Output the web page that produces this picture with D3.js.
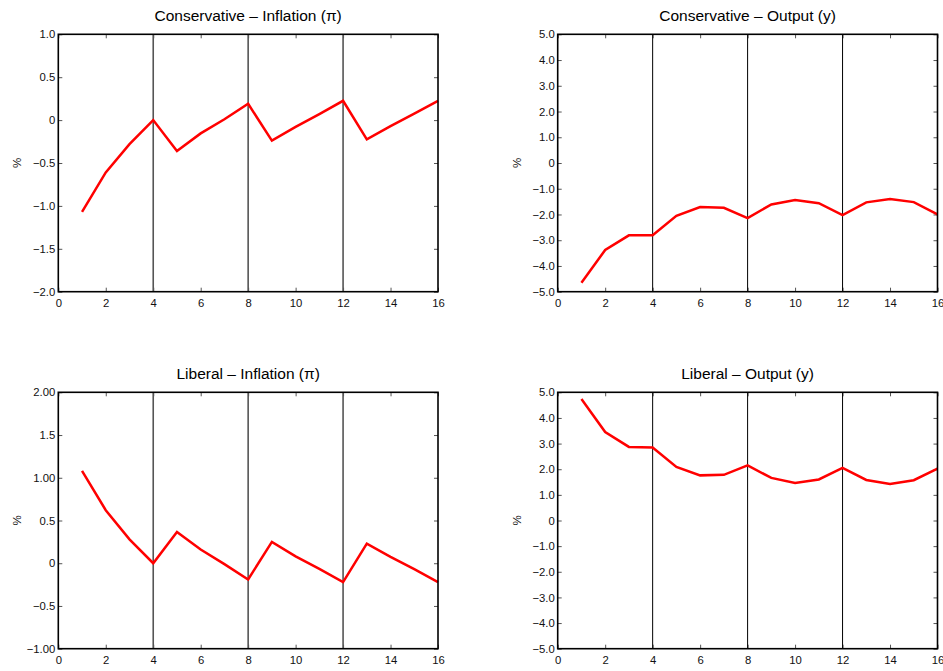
<!DOCTYPE html>
<html><head><meta charset="utf-8">
<script src="https://cdn.jsdelivr.net/npm/d3@7"></script>
<style>body{margin:0;background:#fff;} text{font-family:"Liberation Sans",Arial,sans-serif;}</style>
</head><body>
<svg id="c" width="943" height="671"></svg>
<script>
const periods = d3.range(1, 17);
const consInflation = [-1.07,-0.61,-0.28,0,-0.36,-0.155,0.01,0.19,-0.24,-0.08,0.07,0.225,-0.225,-0.07,0.075,0.225];
const consOutput = [-4.65,-3.38,-2.81,-2.81,-2.05,-1.71,-1.74,-2.14,-1.61,-1.44,-1.56,-2.02,-1.53,-1.40,-1.52,-2.0];
const libInflation = [1.08,0.62,0.28,0,0.365,0.16,-0.01,-0.19,0.25,0.08,-0.065,-0.22,0.23,0.075,-0.07,-0.22];
const libOutput = [4.74,3.45,2.87,2.85,2.09,1.76,1.78,2.15,1.66,1.46,1.60,2.05,1.58,1.42,1.57,2.02];
const xTicks = [0,2,4,6,8,10,12,14,16];
const markerLines = [4,8,12];
const inflTicksCons = [-2,-1.5,-1,-0.5,0,0.5,1];
const inflLabelsCons = ["\u22122.0","\u22121.5","\u22121.0","\u22120.5","0","0.5","1.0"];
const inflTicksLib = [-1,-0.5,0,0.5,1,1.5,2];
const inflLabelsLib = ["\u22121.00","\u22120.5","0","0.5","1.00","1.5","2.00"];
const outTicks = [-5,-4,-3,-2,-1,0,1,2,3,4,5];
const outLabels = ["\u22125.0","\u22124.0","\u22123.0","\u22122.0","\u22121.0","0","1.0","2.0","3.0","4.0","5.0"];
const titles = ["Conservative \u2013 Inflation (\u03c0)","Conservative \u2013 Output (y)","Liberal \u2013 Inflation (\u03c0)","Liberal \u2013 Output (y)"];

const panels = [
  {title:titles[0], data:consInflation, dom:[-2,1], ticks:inflTicksCons, labels:inflLabelsCons, x0:58.3, x1:438, y0:34.3, y1:291.7, vcol:"#555", vw:1.6},
  {title:titles[1], data:consOutput, dom:[-5,5], ticks:outTicks, labels:outLabels, x0:557.7, x1:937.5, y0:34.3, y1:291.7, vcol:"#000", vw:1},
  {title:titles[2], data:libInflation, dom:[-1,2], ticks:inflTicksLib, labels:inflLabelsLib, x0:58.3, x1:438, y0:392.3, y1:648.7, vcol:"#555", vw:1.6},
  {title:titles[3], data:libOutput, dom:[-5,5], ticks:outTicks, labels:outLabels, x0:557.7, x1:937.5, y0:392.3, y1:648.7, vcol:"#000", vw:1}
];

const svg = d3.select("#c");
panels.forEach(p => {
  const x = d3.scaleLinear().domain([0,16]).range([p.x0,p.x1]);
  const y = d3.scaleLinear().domain(p.dom).range([p.y1,p.y0]);
  const g = svg.append("g");
  const fmt = d => p.labels[p.ticks.indexOf(d)];
  const ax = g.append("g").attr("transform",`translate(0,${p.y1})`)
    .call(d3.axisBottom(x).tickValues(xTicks).tickSize(-4).tickPadding(7).tickFormat(d=>String(d)));
  const axT = g.append("g").attr("transform",`translate(0,${p.y0})`)
    .call(d3.axisTop(x).tickValues(xTicks).tickSize(-4).tickFormat(""));
  const ay = g.append("g").attr("transform",`translate(${p.x0},0)`)
    .call(d3.axisLeft(y).tickValues(p.ticks).tickSize(-4).tickPadding(3).tickFormat(fmt));
  const ayR = g.append("g").attr("transform",`translate(${p.x1},0)`)
    .call(d3.axisRight(y).tickValues(p.ticks).tickSize(-4).tickFormat(""));
  [ax,axT,ay,ayR].forEach(a=>{
    a.select(".domain").remove();
    a.selectAll(".tick line").attr("stroke","#555").attr("stroke-width",1);
    a.selectAll(".tick text").attr("font-size",11.3).attr("fill","#111").attr("font-family","Liberation Sans, Arial, sans-serif");
  });
  g.selectAll(".vm").data(markerLines).enter().append("line")
    .attr("x1",d=>x(d)).attr("x2",d=>x(d)).attr("y1",p.y0).attr("y2",p.y1)
    .attr("stroke",p.vcol).attr("stroke-width",p.vw);
  g.append("path").datum(p.data)
    .attr("fill","none").attr("stroke","#ff0000").attr("stroke-width",2.5)
    .attr("d", d3.line().x((d,i)=>x(periods[i])).y(d=>y(d)));
  g.append("rect").attr("x",p.x0).attr("y",p.y0).attr("width",p.x1-p.x0).attr("height",p.y1-p.y0)
    .attr("fill","none").attr("stroke","#000").attr("stroke-width",1.6);
  g.append("text").attr("x",(p.x0+p.x1)/2).attr("y",p.y0-13).attr("text-anchor","middle")
    .attr("font-size",15.5).attr("fill","#000").text(p.title);
  const ly = (p.y0+p.y1)/2;
  const lx = p.x0 - 37;
  g.append("text").attr("transform",`translate(${lx},${ly}) rotate(-90)`).attr("text-anchor","middle")
    .attr("font-size",11.5).attr("fill","#111").text("%");
});
</script>
</body></html>
